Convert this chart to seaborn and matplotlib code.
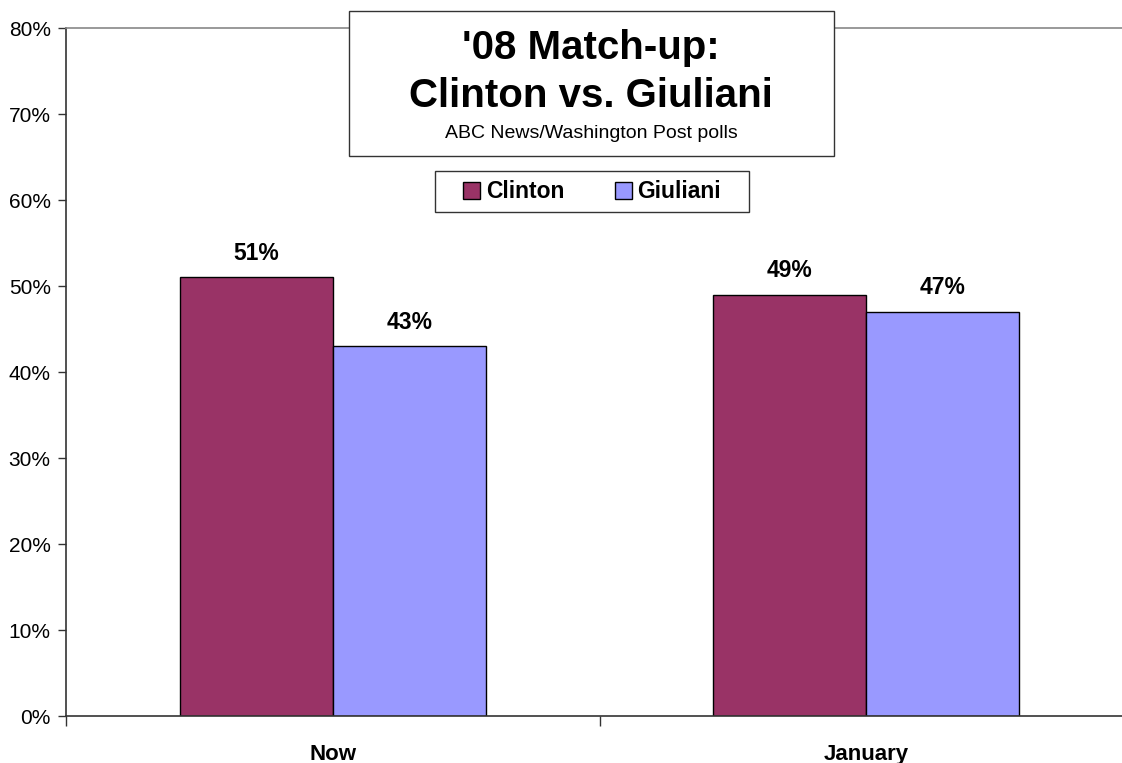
import pandas as pd
import numpy as np
import seaborn as sns
import matplotlib.pyplot as plt
from matplotlib.patches import Rectangle, Patch

# Poll data
periods = ['Now', 'January']
candidates = ['Clinton', 'Giuliani']
clinton = [51, 49]
giuliani = [43, 47]
colors = ['#993366', '#9999FF']

data = pd.DataFrame({
    'period': periods * 2,
    'candidate': ['Clinton'] * 2 + ['Giuliani'] * 2,
    'value': clinton + giuliani,
})

sns.set_style('white', rc={'text.color': 'black', 'xtick.color': 'black',
                           'ytick.color': 'black', 'axes.labelcolor': 'black'})
plt.rcParams['font.family'] = ['Liberation Sans', 'DejaVu Sans']

W, H = 1122, 763
fig = plt.figure(figsize=(W / 100, H / 100), dpi=100)
# axis runs past the right edge of the image like the original
ax = fig.add_axes([66 / W, 1 - 716 / H, (1133 - 66) / W, (716 - 28) / H])

sns.barplot(data=data, x='period', y='value', hue='candidate', palette=colors,
            saturation=1, width=0.573, edgecolor='black', linewidth=1,
            ax=ax, legend=False)

ax.set_ylim(0, 80)
ax.set_xlim(-0.5, 1.5)
ax.set_yticks(range(0, 81, 10))
ax.set_yticklabels([f'{v}%' for v in range(0, 81, 10)], fontsize=15)
ax.set_xticks([0, 1])
ax.set_xticklabels(periods, fontsize=16, fontweight='bold')
ax.set_xlabel('')
ax.set_ylabel('')

# category separator ticks below the axis
ax.set_xticks([-0.5, 0.5, 1.5], minor=True)
ax.tick_params(axis='x', which='major', length=0, pad=20, bottom=False)
ax.tick_params(axis='x', which='minor', length=7, width=1, color='#333333',
               direction='out', bottom=True)
ax.tick_params(axis='y', length=6, width=1, color='#333333', direction='out',
               pad=5, left=True)

for side in ['left', 'bottom']:
    ax.spines[side].set_color('#333333')
    ax.spines[side].set_linewidth(1.2)
ax.spines['right'].set_visible(False)
ax.spines['top'].set_color('#888888')
ax.spines['top'].set_linewidth(1.2)

# value labels
for cont in ax.containers:
    ax.bar_label(cont, labels=[f'{int(v)}%' for v in cont.datavalues],
                 fontsize=16.5, fontweight='bold', padding=9)

# title box
fig.patches.append(Rectangle((349 / W, 1 - 156 / H), (834 - 349) / W, (156 - 11) / H,
                             transform=fig.transFigure, facecolor='white',
                             edgecolor='#333333', linewidth=1, zorder=5))
cx = 591 / W
fig.text(cx, 1 - 48 / H, "'08 Match-up:", ha='center', va='center',
         fontsize=29, fontweight='bold', zorder=6)
fig.text(cx, 1 - 96 / H, 'Clinton vs. Giuliani', ha='center', va='center',
         fontsize=29, fontweight='bold', zorder=6)
fig.text(cx, 1 - 133 / H, 'ABC News/Washington Post polls', ha='center', va='center',
         fontsize=14, zorder=6)

# legend box (frame drawn separately to get the wide padding)
fig.patches.append(Rectangle((435 / W, 1 - 212 / H), (749 - 435) / W, (212 - 171) / H,
                             transform=fig.transFigure, facecolor='white',
                             edgecolor='#333333', linewidth=1, zorder=5))
handles = [Patch(facecolor=c, edgecolor='black', label=n) for c, n in zip(colors, candidates)]
leg = fig.legend(handles=handles, loc='center', bbox_to_anchor=(592 / W, 1 - 192 / H),
                 ncol=2, frameon=False, prop={'weight': 'bold', 'size': 16.5},
                 handlelength=0.75, handleheight=0.75, handletextpad=0.25,
                 columnspacing=2.2, borderpad=0.35, borderaxespad=0)
leg.set_zorder(6)

plt.savefig('out.png', dpi=100)
